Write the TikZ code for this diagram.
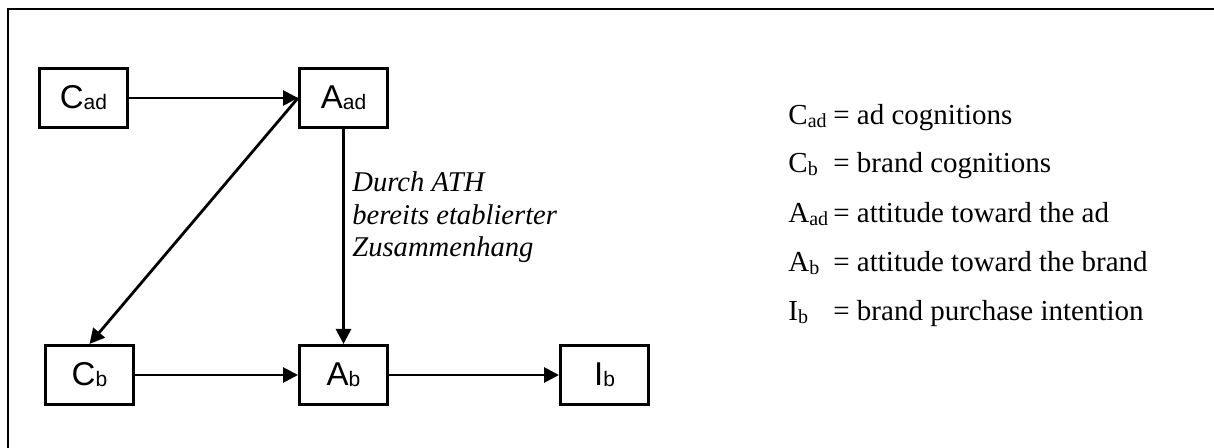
\documentclass[tikz,border=0pt]{standalone}
\usepackage{fontspec}
\setmainfont{Liberation Serif}
\setsansfont{Liberation Sans}
\usetikzlibrary{arrows.meta,positioning}
% subscripts for the boxes and for the key
\newcommand{\bsub}[1]{\raisebox{-0.5pt}{\fontsize{10.5}{10.5}\selectfont #1}}
\newcommand{\lsub}[1]{\raisebox{-1.2pt}{\fontsize{10}{10}\selectfont #1}}
\newcommand{\lsym}[1]{\makebox[22.5pt][l]{#1}}
\tikzset{
  var/.style={draw, line width=1.4pt, minimum width=44.1pt, minimum height=29.6pt,
              inner sep=0pt, font=\sffamily\fontsize{16.5}{16.5}\selectfont},
  ar/.style={-{Triangle[length=7.5pt,width=7.5pt]}, line width=1.4pt},
  note/.style={align=left, inner sep=0pt, font=\itshape\fontsize{14.3}{16.25}\selectfont},
  keyline/.style={inner sep=0pt, anchor=base west, font=\fontsize{14.5}{14.5}\selectfont},
}

\begin{document}
\begin{tikzpicture}[x=0.5pt, y=-0.5pt]
  \useasboundingbox (0,0) rectangle (1214,448);
  \draw[line width=1.4pt] (8,448) -- (8,9) -- (1214,9);

  \node[var] (cad) at (83.5,98) {C\bsub{ad}};
  \node[var, right=84.5pt of cad] (aad) {A\bsub{ad}};
  \node[var, below=107.5pt of aad] (ab) {A\bsub{b}};
  \node[var, left=81.5pt of ab] (cb) {C\bsub{b}};
  \node[var, right=85pt of ab] (ib) {I\bsub{b}};

  \draw[ar] (cad) -- (aad);
  \draw[ar] (aad.west) -- (cb.north);
  \draw[ar] (aad) -- (ab);
  \draw[ar] (cb) -- (ab);
  \draw[ar] (ab) -- (ib);

  % base of a multi-line node is its last line
  \node[note, anchor=base west] (ath) at (352,257)
    {Durch ATH\\bereits etablierter\\Zusammenhang};

  % key
  \node[keyline] (kcad) at (788,125) {\lsym{C\lsub{ad}}= ad cognitions};
  \node[keyline] (kcb) at (788,173) {\lsym{C\lsub{b}}= brand cognitions};
  \node[keyline] (kaad) at (788,223) {\lsym{A\lsub{ad}}= attitude toward the ad};
  \node[keyline] (kab) at (788,272) {\lsym{A\lsub{b}}= attitude toward the brand};
  \node[keyline] (kib) at (788,321) {\lsym{I\lsub{b}}= brand purchase intention};
\end{tikzpicture}
\end{document}
